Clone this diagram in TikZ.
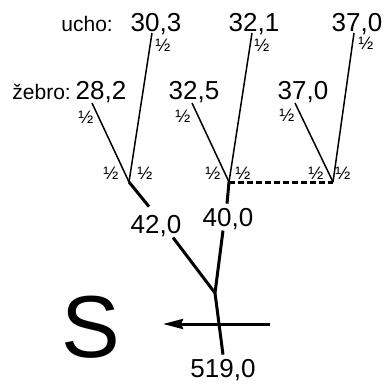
\documentclass[tikz,border=0pt]{standalone}
\usepackage{fontspec}
\setmainfont{Liberation Sans}
\usetikzlibrary{arrows.meta, positioning}

\begin{document}
\begin{tikzpicture}[
    x=1pt, y=-1pt,
    valNode/.style={inner sep=0pt, anchor=base, font=\fontsize{26}{26}\selectfont}, % numbers
    tagNode/.style={inner sep=0pt, anchor=base east, font=\fontsize{21}{21}\selectfont}, % ucho / zebro
    halfMark/.style={inner sep=0pt, font=\fontsize{18}{18}\selectfont}, % the 1/2 marks
    thinBranch/.style={line width=1.5pt},
    thickBranch/.style={line width=3pt},
]
    \useasboundingbox (0,0) rectangle (388,383);

    % 1. joints and free ends
    \coordinate (jLeft) at (129,182);
    \coordinate (jMid) at (229,182);
    \coordinate (jRight) at (333,182);
    \coordinate (root) at (215,293);
    \coordinate (tipA) at (152,33);
    \coordinate (tipB) at (92,103);
    \coordinate (tipC) at (252,33);
    \coordinate (tipD) at (192,103);
    \coordinate (tipE) at (354,33);
    \coordinate (tipF) at (295,103);
    \coordinate (arrowR) at (270,324);
    \coordinate (arrowL) at (163,324);

    % 2. values
    \node[valNode] (v303) at (156,31) {30,3};
    \node[valNode] (v321) at (254,31) {32,1};
    \node[valNode] (v370a) at (357,31) {37,0};
    \node[valNode] (v282) at (101,99) {28,2};
    \node[valNode] (v325) at (194,99) {32,5};
    \node[valNode] (v370b) at (303,99) {37,0};
    \node[valNode] (v420) at (156,233) {42,0};
    \node[valNode] (v400) at (228,226) {40,0};
    \node[valNode] (v519) at (223,377) {519,0};
    \node[tagNode] (tUcho) at (113,31) {ucho:};
    \node[tagNode] (tZebro) at (71,99) {žebro:};
    \node[inner sep=0pt, font=\fontsize{88}{88}\selectfont] (sLetter) at (91,327) {S};

    % 3. branches
    \draw[thinBranch] (jLeft) -- (tipA);
    \draw[thinBranch] (jLeft) -- (tipB);
    \draw[thinBranch] (jMid) -- (tipC);
    \draw[thinBranch] (jMid) -- (tipD);
    \draw[thinBranch] (jRight) -- (tipE);
    \draw[thinBranch] (jRight) -- (tipF);
    \draw[thickBranch, dashed, dash pattern=on 6pt off 3pt] (jMid) -- (jRight);
    \draw[thickBranch] (jLeft) -- ([shift={(-7pt,8pt)}]v420.north);
    \draw[thickBranch] (jMid) -- ([shift={(-1pt,4pt)}]v400.north);
    \draw[thickBranch] ([shift={(17pt,-1pt)}]v420.south) -- (root);
    \draw[thickBranch] ([shift={(-5pt,-1pt)}]v400.south) -- (root);
    \draw[thickBranch] (root) -- ([yshift=4pt]v519.north);
    \draw[thickBranch, -{Stealth[length=20pt, width=10pt, inset=2pt]}] (arrowR) -- (arrowL);

    % 4. the 1/2 marks
    \node[halfMark] (hA) at (163,45) {½};
    \node[halfMark] (hB) at (86,117) {½};
    \node[halfMark] (hC) at (111,173) {½};
    \node[halfMark] (hD) at (145,173) {½};
    \node[halfMark] (hE) at (183,116) {½};
    \node[halfMark] (hF) at (262,45) {½};
    \node[halfMark] (hG) at (213,173) {½};
    \node[halfMark] (hH) at (243,173) {½};
    \node[halfMark] (hI) at (287,115) {½};
    \node[halfMark] (hJ) at (366,43) {½};
    \node[halfMark] (hK) at (316,173) {½};
    \node[halfMark] (hL) at (343,173) {½};
\end{tikzpicture}
\end{document}
